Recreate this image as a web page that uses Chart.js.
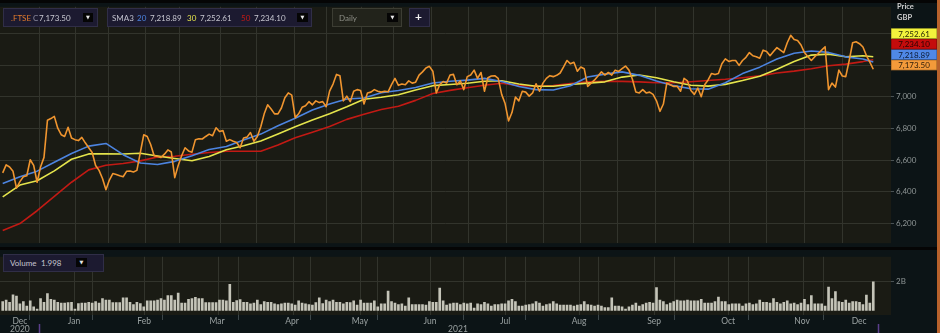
<!DOCTYPE html>
<html>
<head>
<meta charset="utf-8">
<title>.FTSE daily</title>
<script src="https://cdn.jsdelivr.net/npm/chart.js@4.4.1/dist/chart.umd.min.js"></script>
<style>
  html, body { margin:0; padding:0; background:#0c1416; }
  #wrap { position:relative; width:940px; height:333px; overflow:hidden; background:#0c1416; font-family: Lato, "Liberation Sans", Arial, sans-serif; }
  canvas { position:absolute; left:0; }
  #cPrice { top:0; }
  #cVol { top:250px; }
  .box { position:absolute; box-sizing:border-box; background:#1c1a30; border:1px solid #302e47; }
  .t { position:absolute; font-size:8px; line-height:10px; white-space:nowrap; color:#c6c6cf; }
  .btn { position:absolute; box-sizing:border-box; background:#050505; color:#e8e8e8; font-size:5px; line-height:9px; text-align:center; font-family:"DejaVu Sans", sans-serif; }
  .hdr { position:absolute; left:897px; font-size:7.5px; font-weight:bold; color:#cfcfcf; line-height:9px; }
  #edge { position:absolute; left:937px; top:0; width:3px; height:333px; background:#b8622c; }
</style>
</head>
<body>
<div id="wrap">
  <canvas id="cPrice" width="940" height="250"></canvas>
  <canvas id="cVol" width="940" height="83"></canvas>

  <div class="box" style="left:3px;top:8px;width:95px;height:19px"></div>
  <div class="t" style="left:11px;top:12.5px;color:#e27b2c">.FTSE</div>
  <div class="t" style="left:33px;top:12.5px;color:#8a8aa0">C</div>
  <div class="t" id="lgClose" style="left:39px;top:12.5px"></div>
  <div class="btn" style="left:83px;top:13px;width:10px;height:9px">▼</div>

  <div class="box" style="left:107px;top:8px;width:205px;height:19px"></div>
  <div class="t" style="left:112px;top:12.5px;color:#c0c0cc">SMA3</div>
  <div class="t" style="left:137px;top:12.5px;color:#4c84e0">20</div>
  <div class="t" id="lg20" style="left:150px;top:12.5px"></div>
  <div class="t" style="left:187px;top:12.5px;color:#e4e44c">30</div>
  <div class="t" id="lg30" style="left:200px;top:12.5px"></div>
  <div class="t" style="left:241px;top:12.5px;color:#c21a14">50</div>
  <div class="t" id="lg50" style="left:254px;top:12.5px"></div>
  <div class="btn" style="left:297px;top:13px;width:11px;height:9px">▼</div>

  <div class="box" style="left:332px;top:8px;width:70px;height:19px;background:#22231b;border-color:#3c3d33"></div>
  <div class="t" style="left:339px;top:12.5px;color:#8f9088">Daily</div>
  <div class="btn" style="left:387px;top:13px;width:11px;height:9px">▼</div>

  <div class="box" style="left:409px;top:8px;width:21px;height:19px"></div>
  <div class="t" style="left:415px;top:10px;color:#f0f0f0;font-size:12px;font-weight:bold;line-height:14px">+</div>

  <div class="hdr" style="top:2px">Price</div>
  <div class="hdr" style="top:13px">GBP</div>

  <div class="box" style="left:3px;top:254px;width:101px;height:18px"></div>
  <div class="t" style="left:10px;top:258px">Volume</div>
  <div class="t" id="lgVol" style="left:41px;top:258px"></div>
  <div class="btn" style="left:76px;top:258px;width:11px;height:9px">▼</div>

  <div id="edge"></div>
</div>

<script>
// ---------- DATA ----------
// Daily closes of .FTSE, one per trading day (day 0 = 15 Dec 2020 ... day 253 = 15 Dec 2021)
const closeValue = [
  6519,6570,6556,6529,6423,6464,6495,6501,6602,6566,
  6460,6556,6617,6851,6862,6876,6801,6760,6749,6807,
  6739,6729,6723,6743,6709,6678,6648,6566,6535,6484,
  6413,6474,6515,6509,6501,6495,6529,6531,6525,6535,
  6648,6760,6749,6698,6627,6623,6617,6637,6664,6651,
  6489,6566,6627,6678,6658,6650,6729,6735,6733,6749,
  6764,6754,6804,6780,6786,6719,6729,6719,6711,6678,
  6739,6745,6774,6719,6749,6810,6892,6949,6923,6892,
  6892,6929,6994,7024,7010,6868,6892,6933,6943,6969,
  6949,6974,6963,6969,6937,7035,7080,7141,7133,6974,
  7004,6969,7035,7045,7039,6954,7024,7029,7045,7035,
  7029,7035,7031,7076,7116,7072,7080,7076,7100,7086,
  7092,7137,7157,7182,7192,7161,7024,7076,7096,7086,
  7137,7141,7076,7100,7045,7127,7137,7168,7116,7153,
  7035,7120,7131,7133,7116,7015,6957,6847,6900,6998,
  6974,7035,7029,7004,7024,7082,7035,7086,7116,7133,
  7127,7135,7150,7188,7229,7208,7218,7161,7188,7177,
  7065,7086,7106,7131,7157,7137,7153,7137,7168,7160,
  7177,7194,7168,7110,7030,7024,7045,7024,7029,7015,
  6974,6908,6954,7086,7076,7065,7066,7035,7116,7100,
  7040,7015,7055,7000,7076,7106,7147,7141,7147,7208,
  7239,7223,7229,7229,7198,7229,7249,7279,7259,7253,
  7243,7294,7286,7259,7286,7310,7294,7279,7341,7388,
  7361,7355,7327,7279,7253,7229,7253,7273,7294,7316,
  7045,7086,7061,7168,7131,7127,7229,7341,7347,7335,
  7314,7260,7218,7173.50
];
// Daily volume in billions of shares, same days as closeValue
const volumeB = [
  0.63,0.73,0.58,1.10,1.00,0.46,0.63,0.31,0.67,0.25,
  0.10,0.83,0.58,1.19,0.79,0.73,0.58,0.52,0.52,0.56,
  0.58,0.10,0.48,0.52,0.52,0.58,0.52,0.63,0.52,0.83,
  0.73,0.73,0.56,0.56,0.56,0.88,0.88,0.58,0.42,0.58,
  0.48,0.25,0.67,0.67,0.67,0.73,0.83,0.73,1.04,1.04,
  0.73,1.21,0.52,0.52,0.79,0.83,0.92,0.83,0.83,0.56,
  0.56,0.56,0.56,0.73,0.73,0.67,1.83,0.58,0.69,0.77,
  0.58,0.58,0.46,0.52,0.73,0.42,0.63,0.58,0.58,0.46,
  0.42,0.46,0.52,0.52,0.46,0.38,0.67,0.52,0.46,0.42,
  0.38,0.56,0.88,0.48,0.73,0.63,0.73,0.58,0.58,0.46,
  0.58,0.56,0.67,0.38,0.73,0.52,0.52,0.52,0.67,0.25,
  0.46,0.46,1.35,0.63,0.52,0.42,0.46,0.31,0.88,0.42,
  0.42,0.42,0.42,0.38,0.63,0.58,0.58,1.56,0.67,0.38,
  0.46,0.52,0.52,0.42,0.52,0.46,0.52,0.17,0.46,0.42,
  0.58,0.46,0.31,0.42,0.42,0.46,0.46,0.67,0.79,0.63,
  0.31,0.31,0.38,0.42,0.46,0.63,0.52,0.31,0.42,0.46,
  0.63,0.46,0.38,0.38,0.38,0.38,0.31,0.38,0.42,0.63,
  0.42,0.38,0.31,0.38,0.31,0.21,0.21,0.88,0.31,0.31,
  0.25,0.10,0.25,0.38,0.52,0.31,0.42,0.52,0.58,0.52,
  1.60,0.73,0.63,0.42,0.52,0.63,0.73,0.67,0.67,0.73,
  0.67,0.67,0.67,0.79,0.52,0.52,0.52,0.63,0.94,0.63,
  0.63,0.42,0.46,0.46,0.46,0.31,0.46,0.52,0.42,0.46,
  0.73,0.58,0.58,0.52,0.83,0.58,0.46,0.58,0.67,0.46,
  0.52,0.42,0.52,0.79,0.42,1.04,0.46,0.46,0.46,0.31,
  1.63,0.83,1.33,0.63,0.58,0.73,0.52,0.63,0.63,0.58,
  0.42,1.08,0.52,1.998
];
// Moving averages read every 5 trading days
const smaDays = [0,5,10,15,20,25,30,35,40,45,50,55,60,65,70,75,80,85,90,95,100,105,110,115,120,125,
                 130,135,140,145,150,155,160,165,170,175,180,185,190,195,200,205,210,215,220,225,230,235,240,245,250,253];
const sma20 = [6452,6495,6530,6586,6641,6688,6705,6634,6582,6572,6592,6627,6667,6686,6727,6764,6817,6864,6916,6954,
               6986,6992,7025,7039,7058,7087,7098,7105,7116,7096,7065,7045,7043,7069,7125,7143,7157,7135,7099,7070,
               7050,7048,7088,7146,7187,7238,7275,7289,7280,7252,7238,7218.89];
const sma30 = [6367,6442,6469,6532,6605,6639,6640,6638,6643,6626,6610,6596,6623,6665,6691,6720,6765,6811,6853,6893,
               6937,6984,6997,7013,7043,7070,7077,7085,7098,7101,7080,7066,7066,7077,7086,7094,7124,7137,7120,7095,
               7073,7067,7078,7102,7130,7173,7222,7263,7269,7253,7259,7252.61];
const sma50 = [6155,6199,6280,6370,6460,6538,6567,6578,6595,6619,6624,6637,6648,6656,6656,6656,6695,6741,6776,6812,
               6857,6890,6919,6940,6977,7020,7040,7057,7073,7085,7070,7066,7070,7083,7095,7097,7097,7094,7088,7088,
               7095,7103,7110,7120,7132,7150,7162,7177,7196,7206,7222,7234.10];
// Axis: price ticks, volume tick, time-axis positions (in trading days)
const priceTicks = [6200,6400,6600,6800,7000,7200,7400];
const volumeTicks = [2];
const monthStartDays = [10.6,30.8,51.5,73.8,94.2,113.5,135.3,157.1,178.6,200.7,222.0,244.2];
const midMonthDays = [21.3,41.6,63.2,84.9,104.3,124.7,146.5,167.8,189.6,211.2,232.9];
const monthLabelDays = [5.0,20.7,41.1,62.3,84.1,103.8,124.2,146.0,167.5,189.3,210.8,232.3,248.9];
const monthLabels = ['Dec','Jan','Feb','Mar','Apr','May','Jun','Jul','Aug','Sep','Oct','Nov','Dec'];
const yearLabelDays = [5.0,132.3];
const yearLabels = ['2020','2021'];
const rangeMarkerDays = [10.55, 254.4];

// ---------- STYLE ----------
const X_MIN = -0.785, X_MAX = 258.15;
const PLOT_BG = '#1a1b14', PANEL_BG = '#0c1416', GRID = '#32342c';
const C_CLOSE = '#f0952f', C_20 = '#4c84e0', C_30 = '#e4e44c', C_50 = '#c21a14';
const FONT = 'Lato, "Liberation Sans", Arial, sans-serif';

const fmt2 = v => v.toLocaleString('en-US', {minimumFractionDigits:2, maximumFractionDigits:2});
document.getElementById('lgClose').textContent = fmt2(closeValue[closeValue.length-1]);
document.getElementById('lg20').textContent = fmt2(sma20[sma20.length-1]);
document.getElementById('lg30').textContent = fmt2(sma30[sma30.length-1]);
document.getElementById('lg50').textContent = fmt2(sma50[sma50.length-1]);
document.getElementById('lgVol').textContent = String(volumeB[volumeB.length-1]);

const bgPlugin = {
  id: 'bg',
  beforeDraw(chart, args, opts) {
    const {ctx, chartArea: a, width, height} = chart;
    ctx.save();
    ctx.fillStyle = PANEL_BG; ctx.fillRect(0, 0, width, height);
    ctx.fillStyle = PLOT_BG; ctx.fillRect(a.left, a.top, a.right - a.left, a.bottom - a.top);
    ctx.fillStyle = '#050505';
    if (opts.top) ctx.fillRect(0, 0, width, opts.top);
    if (opts.bottom) ctx.fillRect(0, height - opts.bottom, width, opts.bottom);
    ctx.restore();
  }
};

const tagPlugin = {
  id: 'tags',
  afterDraw(chart) {
    const y = chart.scales.y, ctx = chart.ctx, a = chart.chartArea;
    const items = [
      {v: closeValue[closeValue.length-1], bg: '#f39a3a', fg: '#2a1a08'},
      {v: sma20[sma20.length-1], bg: '#4f88e6', fg: '#0c1a33'},
      {v: sma50[sma50.length-1], bg: '#c40c0c', fg: '#2a0303'},
      {v: sma30[sma30.length-1], bg: '#f2f23c', fg: '#2a2a05'}
    ].sort((p, q) => p.v - q.v);
    const h = 10.5, w = 46;
    let bottom = y.getPixelForValue(items[0].v) + 1;
    ctx.save();
    ctx.font = '8px ' + FONT;
    ctx.textAlign = 'center'; ctx.textBaseline = 'middle';
    items.forEach(it => {
      const top = bottom - h;
      ctx.fillStyle = it.bg; ctx.fillRect(a.right, top, w, h);
      ctx.strokeStyle = 'rgba(0,0,0,0.35)'; ctx.lineWidth = 0.6; ctx.strokeRect(a.right + 0.3, top + 0.3, w - 0.6, h - 0.6);
      ctx.fillStyle = it.fg; ctx.fillText(fmt2(it.v), a.right + w / 2, top + h / 2 + 0.5);
      bottom = top;
    });
    ctx.restore();
  }
};

const markerPlugin = {
  id: 'markers',
  afterDraw(chart) {
    const x = chart.scales.x, ctx = chart.ctx;
    ctx.save(); ctx.strokeStyle = '#5b3f8c'; ctx.lineWidth = 1.5;
    rangeMarkerDays.forEach(d => {
      const px = Math.round(x.getPixelForValue(d)) + 0.5;
      ctx.beginPath(); ctx.moveTo(px, chart.height - 9); ctx.lineTo(px, chart.height); ctx.stroke();
    });
    ctx.restore();
  }
};

const gridDays = monthStartDays.concat(midMonthDays).sort((a, b) => a - b);

function xy(xs, ys) { return ys.map((v, i) => ({x: xs[i], y: v})); }
const dayIdx = closeValue.map((v, i) => i);

Chart.defaults.font.family = FONT;

new Chart(document.getElementById('cPrice'), {
  type: 'line',
  data: {
    datasets: [
      {data: xy(dayIdx, closeValue), borderColor: C_CLOSE, borderWidth: 1.6, order: 0},
      {data: xy(smaDays, sma20), borderColor: C_20, borderWidth: 1.6, order: 1},
      {data: xy(smaDays, sma30), borderColor: C_30, borderWidth: 1.6, order: 2},
      {data: xy(smaDays, sma50), borderColor: C_50, borderWidth: 1.6, order: 3}
    ]
  },
  options: {
    responsive: false, animation: false, events: [],
    devicePixelRatio: 1,
    layout: {padding: {top: 3, bottom: 3, left: 0, right: 0}},
    elements: {point: {radius: 0}, line: {tension: 0, borderJoinStyle: 'round'}},
    plugins: {legend: {display: false}, tooltip: {enabled: false}, bg: {top: 3, bottom: 3}},
    scales: {
      x: {
        type: 'linear', min: X_MIN, max: X_MAX,
        afterBuildTicks: s => { s.ticks = gridDays.map(v => ({value: v})); },
        ticks: {display: false},
        grid: {color: GRID, drawTicks: false, lineWidth: 1},
        border: {display: false}
      },
      y: {
        position: 'right', min: 6075, max: 7568,
        afterBuildTicks: s => { s.ticks = priceTicks.map(v => ({value: v})); },
        afterFit: s => { s.width = 49; },
        ticks: {color: '#8e9595', font: {size: 8}, padding: 2,
                callback: v => Number(v).toLocaleString('en-US')},
        grid: {color: GRID, tickLength: 3, tickColor: '#4a5254'},
        border: {display: false}
      }
    }
  },
  plugins: [bgPlugin, tagPlugin]
});

// time axis tick definitions for the volume panel
const tickDefs = [];
monthStartDays.forEach(v => tickDefs.push({value: v, grid: true, mark: true, label: ''}));
midMonthDays.forEach(v => tickDefs.push({value: v, grid: true, mark: false, label: ''}));
monthLabelDays.forEach((v, i) => {
  const yi = yearLabelDays.indexOf(v);
  tickDefs.push({value: v, grid: false, mark: false, label: yi >= 0 ? [monthLabels[i], yearLabels[yi]] : monthLabels[i]});
});
yearLabelDays.forEach((v, i) => {
  if (monthLabelDays.indexOf(v) < 0) tickDefs.push({value: v, grid: false, mark: false, label: ['', yearLabels[i]]});
});
tickDefs.sort((a, b) => a.value - b.value);

new Chart(document.getElementById('cVol'), {
  type: 'bar',
  data: {
    datasets: [{data: xy(dayIdx, volumeB), backgroundColor: '#c4c4b8', barThickness: 2, borderWidth: 0}]
  },
  options: {
    responsive: false, animation: false, events: [],
    devicePixelRatio: 1,
    layout: {padding: 0},
    plugins: {legend: {display: false}, tooltip: {enabled: false}, bg: {}},
    scales: {
      x: {
        type: 'linear', min: X_MIN, max: X_MAX, offset: false,
        afterBuildTicks: s => { s.ticks = tickDefs.map(d => ({value: d.value})); },
        afterFit: s => { s.height = 18; },
        ticks: {autoSkip: false, maxRotation: 0, color: '#9aa1a1', padding: -3,
                font: {size: 8.5, lineHeight: 0.95},
                callback: (v, i) => tickDefs[i].label},
        grid: {color: c => (tickDefs[c.index] && tickDefs[c.index].grid) ? GRID : 'rgba(0,0,0,0)',
               tickColor: c => (tickDefs[c.index] && tickDefs[c.index].mark) ? '#3c4649' : 'rgba(0,0,0,0)',
               tickLength: 5, drawTicks: true},
        border: {display: false}
      },
      y: {
        position: 'right', min: -0.3125, max: 3.75,
        afterBuildTicks: s => { s.ticks = volumeTicks.map(v => ({value: v})); },
        afterFit: s => { s.width = 49; },
        ticks: {color: '#8e9595', font: {size: 8}, padding: 2, callback: v => v + 'B'},
        grid: {color: GRID, tickLength: 3, tickColor: '#4a5254'},
        border: {display: false}
      }
    }
  },
  plugins: [bgPlugin, markerPlugin]
});
</script>
</body>
</html>
